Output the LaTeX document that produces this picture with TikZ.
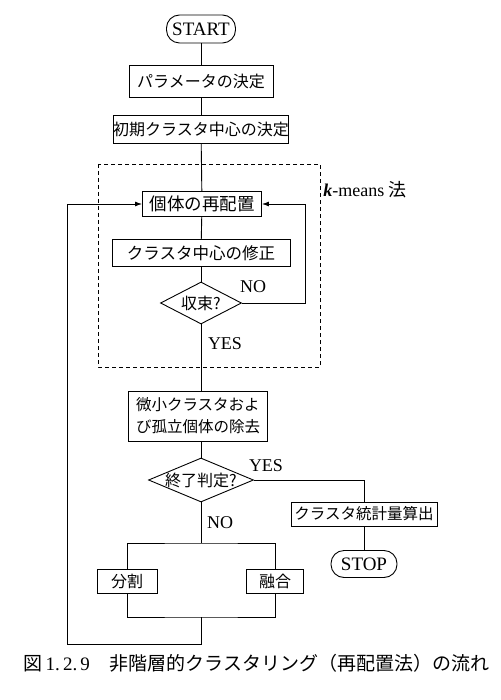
\documentclass[tikz,border=0pt]{standalone}
\usepackage{fontspec}
\setmainfont{Liberation Serif}
\newfontfamily\cjk{Noto Sans CJK JP}
\usetikzlibrary{shapes.geometric,arrows.meta}
\begin{document}
\begin{tikzpicture}[x=1pt,y=-1pt,
  line width=0.9pt,
  proc/.style={draw, rectangle, inner sep=0pt, font=\cjk\fontsize{16}{19}\selectfont},
  term/.style={draw, rectangle, rounded corners=13pt, inner sep=0pt, font=\fontsize{19}{21}\selectfont},
  dec/.style={draw, diamond, inner sep=0pt},
  dectext/.style={font=\cjk\fontsize{16}{18}\selectfont},
  lab/.style={font=\fontsize{18}{20}\selectfont, inner sep=0pt},
  arr/.style={-{Latex[length=7pt,width=5pt]}},
]
\useasboundingbox (0,0) rectangle (500,700);
\fill[white] (0,0) rectangle (500,700);

\node[term, minimum width=69pt, minimum height=28pt] (start) at (201,29) {START};
\node[proc, minimum width=144pt, minimum height=32pt] (p1) at (201,81) {パラメータの決定};
\node[proc, minimum width=175pt, minimum height=28pt] (p2) at (201,129) {初期クラスタ中心の決定};
\draw[dash pattern=on 4pt off 3pt] (98,164) rectangle (320,367);
\node[lab, anchor=west] (km) at (323,190) {\textbf{\textit{k}}-means {\cjk 法}};
\node[proc, font=\cjk\fontsize{17.5}{19}\selectfont, minimum width=119pt, minimum height=25pt] (b1) at (202,204) {個体の再配置};
\node[proc, font=\cjk\fontsize{16.5}{19}\selectfont, minimum width=178pt, minimum height=27pt] (b2) at (201,253) {クラスタ中心の修正};
\node[dec, minimum width=81pt, minimum height=42pt, label={[dectext]center:収束?}] (d1) at (201,303) {};
\node[lab] (no1) at (253,287) {NO};
\node[lab] (yes1) at (225,344) {YES};
\node[proc, align=left, font=\cjk\fontsize{15.5}{22}\selectfont, minimum width=139pt, minimum height=50pt] (b3) at (198,416) {微小クラスタおよ\\び孤立個体の除去};
\node[dec, minimum width=105pt, minimum height=44pt, label={[dectext]center:終了判定?}] (d2) at (201,480) {};
\node[lab] (yes2) at (266,466) {YES};
\node[proc, font=\cjk\fontsize{15.5}{19}\selectfont, minimum width=146pt, minimum height=24pt] (b4) at (364,514) {クラスタ統計量算出};
\node[term, minimum width=66pt, minimum height=27pt] (stop) at (364,564) {STOP};
\node[lab] (no2) at (220,523) {NO};
\coordinate (sp) at (201,543);
\node[proc, minimum width=60pt, minimum height=24pt] (b5) at (127,581) {分割};
\node[proc, minimum width=57pt, minimum height=24pt] (b6) at (275,581) {融合};
\coordinate (jn) at (201,617);
\coordinate (lp) at (67,644);
\coordinate (rt) at (305,303);

\draw (start) -- (p1);
\draw (p1) -- (p2);
\draw (p2) -- (b1);
\draw (b1) -- (b2);
\draw (b2) -- (d1);
\draw (d1.south) -- (d1.south |- b3.north);
\draw (b3.south -| d2.north) -- (d2.north);
\draw[arr] (d1.east) -- (rt) |- (b1.east);
\draw (d2.east) -| (b4.north);
\draw (b4) -- (stop);
\draw (d2.south) -- (sp);
\draw (b5.north) |- (sp) -| (b6.north);
\draw (b5.south) |- (jn) -| (b6.south);
\draw[arr] (jn) -- (jn |- lp) -- (lp) |- (b1.west);

\node[anchor=west, font=\fontsize{19}{21}\selectfont, inner sep=0pt] (cap) at (23,663) {{\cjk 図}\,1.\,2.\,9\hspace{20pt}{\cjk 非階層的クラスタリング（再配置法）の流れ}};
\end{tikzpicture}
\end{document}
